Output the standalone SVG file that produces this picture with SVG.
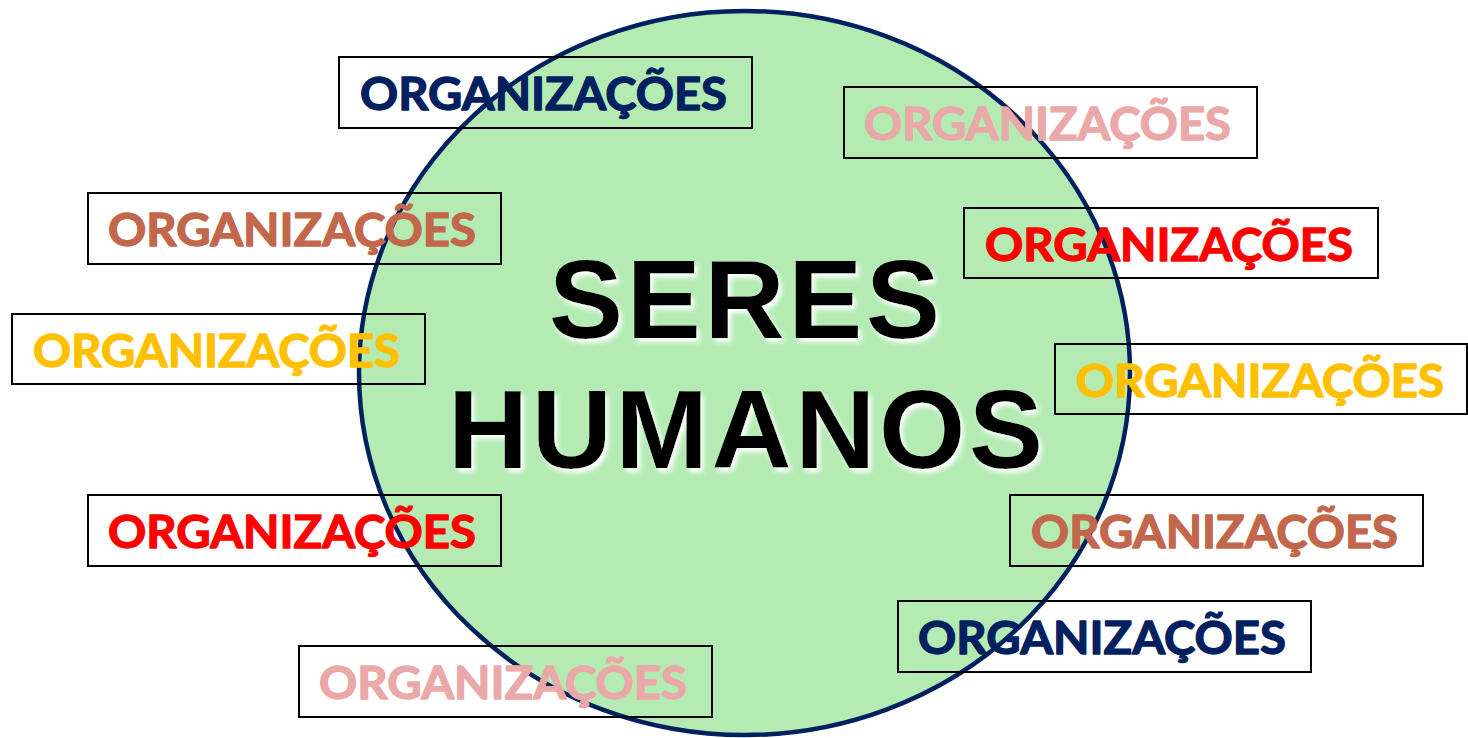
<svg xmlns="http://www.w3.org/2000/svg" width="1468" height="738" viewBox="0 0 1468 738">
<defs>
<filter id="glow" x="-10%" y="-20%" width="130%" height="150%">
<feDropShadow dx="3" dy="4" stdDeviation="2.5" flood-color="#ffffff" flood-opacity="1"/>
</filter>
<style>
.box{fill:none;stroke:#000;stroke-width:2}
.org{font-family:Lato,"Open Sans",sans-serif;font-weight:bold;font-size:45px;stroke-width:1.3;stroke-linejoin:round}
.navy{fill:#002060;stroke:#002060}.pink{fill:#EAA8A8;stroke:#EAA8A8}.brown{fill:#C2674B;stroke:#C2674B}.red{fill:#FF0000;stroke:#FF0000}.gold{fill:#FFC000;stroke:#FFC000}
.big{font-family:"Liberation Sans",Arial,sans-serif;font-weight:bold;font-size:111px;fill:#000}
</style>
</defs>
<rect width="1468" height="738" fill="#fff"/>
<g id="circle">
<ellipse cx="744.5" cy="373" rx="385.5" ry="362" fill="#B3EBB3" stroke="#002060" stroke-width="4.5"/>
</g>
<g id="center">
<text class="big" x="549" y="338" textLength="391" lengthAdjust="spacing" filter="url(#glow)">SERES</text>
<text class="big" x="448" y="468" textLength="595" lengthAdjust="spacing" filter="url(#glow)">HUMANOS</text>
</g>
<g id="connectors"></g>
<g id="n1"><rect class="box" x="339" y="57" width="413" height="71"/><text class="org navy" x="360" y="110" textLength="367" lengthAdjust="spacingAndGlyphs">ORGANIZAÇÕES</text></g>
<g id="n2"><rect class="box" x="844" y="87" width="413" height="71"/><text class="org pink" x="864" y="140" textLength="367" lengthAdjust="spacingAndGlyphs">ORGANIZAÇÕES</text></g>
<g id="n3"><rect class="box" x="88" y="193" width="413" height="71"/><text class="org brown" x="108" y="246" textLength="368" lengthAdjust="spacingAndGlyphs">ORGANIZAÇÕES</text></g>
<g id="n4"><rect class="box" x="964" y="208" width="414" height="70"/><text class="org red" x="985" y="261" textLength="368" lengthAdjust="spacingAndGlyphs">ORGANIZAÇÕES</text></g>
<g id="n5"><rect class="box" x="12" y="314" width="413" height="70"/><text class="org gold" x="33" y="367" textLength="367" lengthAdjust="spacingAndGlyphs">ORGANIZAÇÕES</text></g>
<g id="n6"><rect class="box" x="1055" y="344" width="412" height="70"/><text class="org gold" x="1076" y="397" textLength="368" lengthAdjust="spacingAndGlyphs">ORGANIZAÇÕES</text></g>
<g id="n7"><rect class="box" x="88" y="495" width="413" height="71"/><text class="org red" x="108" y="548" textLength="368" lengthAdjust="spacingAndGlyphs">ORGANIZAÇÕES</text></g>
<g id="n8"><rect class="box" x="1010" y="495" width="413" height="71"/><text class="org brown" x="1031" y="548" textLength="367" lengthAdjust="spacingAndGlyphs">ORGANIZAÇÕES</text></g>
<g id="n9"><rect class="box" x="898" y="601" width="413" height="71"/><text class="org navy" x="918" y="654" textLength="368" lengthAdjust="spacingAndGlyphs">ORGANIZAÇÕES</text></g>
<g id="n10"><rect class="box" x="299" y="646" width="413" height="71"/><text class="org pink" x="319" y="699" textLength="368" lengthAdjust="spacingAndGlyphs">ORGANIZAÇÕES</text></g>
</svg>
